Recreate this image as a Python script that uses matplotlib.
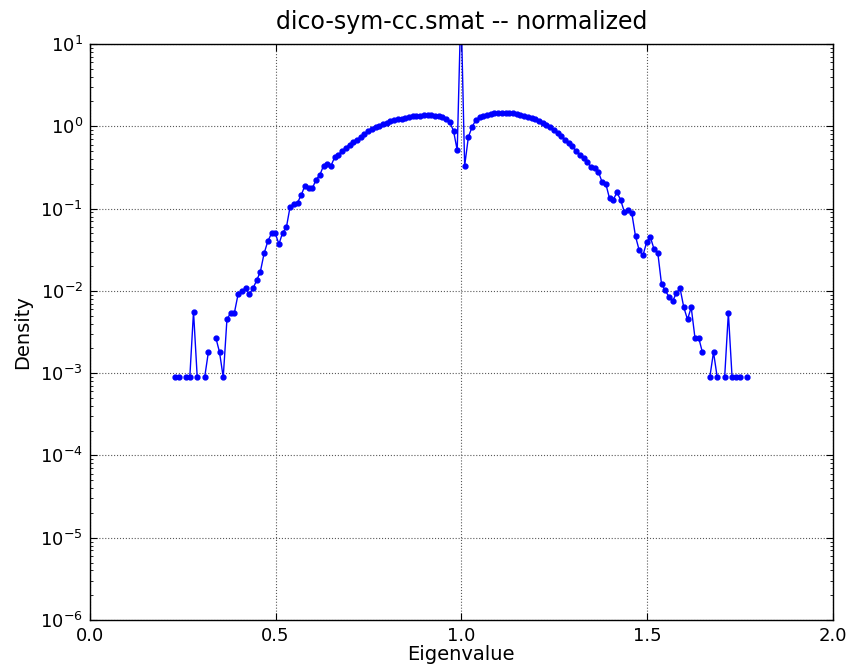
import numpy as np
import matplotlib
matplotlib.use('Agg')
import matplotlib.pyplot as plt
from matplotlib.ticker import FormatStrFormatter

# histogram of eigenvalues, bin centres start at 0.229, width 0.01
bin_start = 0.229
bin_width = 0.01
nan = np.nan
density = [
    0.00089, 0.00089, nan, 0.00089, 0.00089, 0.0056, 0.00089, nan, 0.00089, 0.0018,
    nan, 0.0027, 0.0018, 0.00089, 0.0045, 0.0054, 0.0054, 0.0091, 0.0100, 0.0107,
    0.0091, 0.0107, 0.0134, 0.0171, 0.0285, 0.040, 0.050, 0.050, 0.037, 0.051,
    0.059, 0.105, 0.114, 0.118, 0.146, 0.190, 0.178, 0.176, 0.225, 0.256,
    0.33, 0.35, 0.33, 0.42, 0.45, 0.50, 0.55, 0.60, 0.65, 0.69,
    0.74, 0.80, 0.87, 0.92, 0.97, 1.02, 1.07, 1.11, 1.15, 1.18,
    1.21, 1.24, 1.27, 1.30, 1.32, 1.34, 1.35, 1.36, 1.36, 1.36,
    1.35, 1.33, 1.30, 1.22, 1.12, 0.88, 0.51, 30.0, 0.33, 0.74,
    0.98, 1.19, 1.28, 1.33, 1.38, 1.41, 1.43, 1.44, 1.44, 1.44,
    1.44, 1.43, 1.41, 1.37, 1.33, 1.29, 1.26, 1.22, 1.17, 1.11,
    1.05, 0.98, 0.91, 0.83, 0.76, 0.69, 0.62, 0.57, 0.50, 0.45,
    0.41, 0.37, 0.32, 0.31, 0.28, 0.21, 0.20, 0.133, 0.127, 0.158,
    0.127, 0.091, 0.096, 0.088, 0.046, 0.031, 0.027, 0.039, 0.045, 0.032,
    0.029, 0.0121, 0.0101, 0.0085, 0.0075, 0.0094, 0.0107, 0.0063, 0.0045, 0.0063,
    0.0027, 0.0027, 0.0018, nan, 0.00089, 0.0018, 0.00089, nan, 0.00089, 0.0054,
    0.00089, 0.00089, 0.00089, nan, 0.00089,
]
x_ticks = [0.0, 0.5, 1.0, 1.5, 2.0]

eig = bin_start + bin_width * np.arange(len(density))

plt.rcParams['font.family'] = ['DejaVu Sans']
plt.rcParams['mathtext.fontset'] = 'dejavusans'
plt.rcParams['mathtext.default'] = 'regular'

fig = plt.figure(figsize=(8.48, 6.66), dpi=100)
ax = fig.add_axes([0.106, 0.069, 0.876, 0.865])

ax.semilogy(eig, density, 'b.-', markersize=7, linewidth=1.0)

ax.set_xlim(0, 2)
ax.set_ylim(1e-6, 1e1)
ax.set_xticks(x_ticks)
ax.xaxis.set_major_formatter(FormatStrFormatter('%.1f'))
ax.grid(True, which='major', color='0.35', linestyle=':', linewidth=0.8)
ax.tick_params(which='both', direction='in', top=True, right=True, labelsize=13)
ax.tick_params(which='major', length=5, pad=5)
ax.tick_params(which='minor', length=2.5)
for s in ax.spines.values():
    s.set_linewidth(1.0)

ax.set_title('dico-sym-cc.smat -- normalized', fontsize=17, pad=11)
ax.set_xlabel('Eigenvalue', fontsize=14, labelpad=0)
ax.set_ylabel('Density', fontsize=14, labelpad=6)

fig.savefig('out.png', dpi=100)
